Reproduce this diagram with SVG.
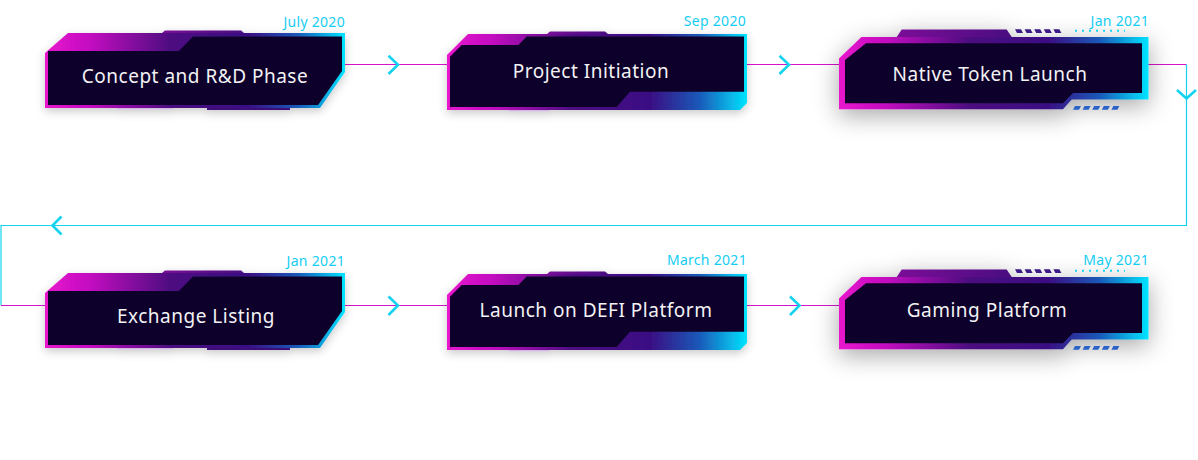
<svg xmlns="http://www.w3.org/2000/svg" width="1198" height="460" viewBox="0 0 1198 460">
  <defs>
    <linearGradient id="brd" x1="0" y1="0" x2="1" y2="0">
      <stop offset="0" stop-color="#e813cc"/>
      <stop offset="0.15" stop-color="#c310c0"/>
      <stop offset="0.42" stop-color="#4c0a80"/>
      <stop offset="0.68" stop-color="#3a1084"/>
      <stop offset="0.84" stop-color="#1a58b8"/>
      <stop offset="1" stop-color="#00e4ff"/>
    </linearGradient>
    <linearGradient id="tab" x1="0" y1="0" x2="1" y2="0">
      <stop offset="0" stop-color="#7a1098"/>
      <stop offset="1" stop-color="#4a0a80"/>
    </linearGradient>
    <filter id="sh1" x="-20%" y="-40%" width="140%" height="190%">
      <feDropShadow dx="0" dy="3" stdDeviation="5" flood-color="#000" flood-opacity="0.22"/>
    </filter>
    <filter id="sh2" x="-30%" y="-80%" width="160%" height="260%">
      <feDropShadow dx="0" dy="6" stdDeviation="12" flood-color="#000" flood-opacity="0.35"/>
    </filter>
  </defs>
  <style>
    .wire{fill:none;stroke:#d414c8;stroke-width:1.2}
    .wire2{fill:none;stroke:#14d2f0;stroke-width:1.2}
    .chev{fill:none;stroke:#14d2f0;stroke-width:2.6;stroke-linecap:butt;stroke-linejoin:miter}
    .outer{fill:url(#brd)}
    .panel{fill:#10022a}
    .tab{fill:url(#tab)}
    .lav{fill:#c8a8e0;opacity:0.7}
    .pur{fill:#3c0c7a}
    .stripe{fill:#3a1a86}
    .bstripe{fill:#2a62c8}
    .dots{fill:none;stroke:#14d2f0;stroke-width:2;stroke-dasharray:2 5}
    .label{font-family:"Noto Sans","Liberation Sans",sans-serif;font-size:19px;letter-spacing:0.5px;fill:#f2f2f4;text-anchor:middle}
    .date{font-family:"Noto Sans","Liberation Sans",sans-serif;font-size:14px;letter-spacing:0.3px;fill:#14cdf2;text-anchor:end}
  </style>

  <g id="connectors">
    <line class="wire" x1="345" y1="64.5" x2="447" y2="64.5"/>
    <line class="wire" x1="747" y1="64.5" x2="839" y2="64.5"/>
    <polyline class="wire" points="1148,64.5 1186.5,64.5"/>
    <polyline class="wire2" points="1186.5,64.5 1186.5,225.5 1,225.5 1,305.5"/>
    <line class="wire" x1="1" y1="305.5" x2="45" y2="305.5"/>
    <line class="wire" x1="345" y1="305.5" x2="447" y2="305.5"/>
    <line class="wire" x1="747" y1="305.5" x2="839" y2="305.5"/>
    <polyline class="chev" points="388.5,55.7 398,64.7 388.5,74"/>
    <polyline class="chev" points="779.5,55.7 789,64.7 779.5,74"/>
    <polyline class="chev" points="1177,90 1186.5,98.5 1196,90"/>
    <polyline class="chev" points="61.5,216.5 52.5,225.5 61.5,234.5"/>
    <polyline class="chev" points="388.5,296.5 398,305.5 388.5,315"/>
    <polyline class="chev" points="790,296.5 799.5,305.5 790,315"/>
  </g>

  <g id="node1" transform="translate(45,33)">
    <g filter="url(#sh1)">
      <polygon class="tab" points="120,-2.5 196,-2.5 199,0 117,0"/>
      <polygon class="outer" points="23,0 300,0 300,39 275,75 0,75 0,20"/>
      <rect class="lav" x="72" y="75" width="56" height="1.5"/>
      <rect class="pur" x="162" y="75" width="83" height="2"/>
      <polygon class="panel" points="3,18 134,18 148,3.5 297,3.5 297,38 273,72 3,72"/>
    </g>
    <text class="label" x="150" y="50">Concept and R&amp;D Phase</text>
    <text class="date" x="300" y="-6">July 2020</text>
  </g>

  <g id="node2" transform="translate(447,34)">
    <g filter="url(#sh1)">
      <polygon class="tab" points="103,-2.5 158,-2.5 161,0 100,0"/>
      <polygon class="outer" points="21,0 300,0 300,69 293,76 0,76 0,21"/>
      <rect class="lav" x="62" y="76" width="40" height="1.5"/>
      <polygon class="panel" points="3,22.7 14.7,11 71.3,11 79.7,2.5 297,2.5 297,57.7 183,57.7 169.7,73 3,73"/>
    </g>
    <text class="label" x="144" y="44.3">Project Initiation</text>
    <text class="date" x="299" y="-8">Sep 2020</text>
  </g>

  <g id="node3" transform="translate(839,37)">
    <g filter="url(#sh2)">
      <polygon class="tab" points="62.7,-7.4 167.7,-7.4 172.7,0 57.7,0"/>
      <polygon class="outer" points="22.4,0 309.5,0 309.5,62.6 232.7,62.6 224,72.3 0,72.3 0,21.6"/>
      <polygon class="panel" points="6,23 27,6.3 303,6.3 303,56 234,56 224,66.3 6,66.3"/>
    </g>
    <g>
      <polygon class="stripe" points="176,-7.7 182,-7.7 184,-4 178,-4"/>
      <polygon class="stripe" points="185.6,-7.7 191.6,-7.7 193.6,-4 187.6,-4"/>
      <polygon class="stripe" points="195.2,-7.7 201.2,-7.7 203.2,-4 197.2,-4"/>
      <polygon class="stripe" points="204.8,-7.7 210.8,-7.7 212.8,-4 206.8,-4"/>
      <polygon class="stripe" points="214.4,-7.7 220.4,-7.7 222.4,-4 216.4,-4"/>
      <line class="dots" x1="236" y1="-6.3" x2="286" y2="-6.3"/>
      <polygon class="bstripe" points="236,69 242,69 240,72.7 234,72.7"/>
      <polygon class="bstripe" points="245.6,69 251.6,69 249.6,72.7 243.6,72.7"/>
      <polygon class="bstripe" points="255.2,69 261.2,69 259.2,72.7 253.2,72.7"/>
      <polygon class="bstripe" points="264.8,69 270.8,69 268.8,72.7 262.8,72.7"/>
      <polygon class="bstripe" points="274.4,69 280.4,69 278.4,72.7 272.4,72.7"/>
    </g>
    <text class="label" x="151" y="43.7">Native Token Launch</text>
    <text class="date" x="310" y="-11">Jan 2021</text>
  </g>

  <g id="node4" transform="translate(45,273)">
    <g filter="url(#sh1)">
      <polygon class="tab" points="120,-2.5 196,-2.5 199,0 117,0"/>
      <polygon class="outer" points="23,0 300,0 300,39 275,75 0,75 0,20"/>
      <rect class="lav" x="72" y="75" width="56" height="1.5"/>
      <rect class="pur" x="162" y="75" width="83" height="2"/>
      <polygon class="panel" points="3,18 134,18 148,3.5 297,3.5 297,38 273,72 3,72"/>
    </g>
    <text class="label" x="151" y="49.7">Exchange Listing</text>
    <text class="date" x="300" y="-7">Jan 2021</text>
  </g>

  <g id="node5" transform="translate(447,274)">
    <g filter="url(#sh1)">
      <polygon class="tab" points="103,-2.5 158,-2.5 161,0 100,0"/>
      <polygon class="outer" points="21,0 300,0 300,69 293,76 0,76 0,21"/>
      <rect class="lav" x="62" y="76" width="40" height="1.5"/>
      <polygon class="panel" points="3,22.7 14.7,11 71.3,11 79.7,2.5 297,2.5 297,57.7 183,57.7 169.7,73 3,73"/>
    </g>
    <text class="label" x="149" y="42.7">Launch on DEFI Platform</text>
    <text class="date" x="300" y="-9">March 2021</text>
  </g>

  <g id="node6" transform="translate(839,277)">
    <g filter="url(#sh2)">
      <polygon class="tab" points="62.7,-7.4 167.7,-7.4 172.7,0 57.7,0"/>
      <polygon class="outer" points="22.4,0 309.5,0 309.5,62.6 232.7,62.6 224,72.3 0,72.3 0,21.6"/>
      <polygon class="panel" points="6,23 27,6.3 303,6.3 303,56 234,56 224,66.3 6,66.3"/>
    </g>
    <g>
      <polygon class="stripe" points="176,-7.7 182,-7.7 184,-4 178,-4"/>
      <polygon class="stripe" points="185.6,-7.7 191.6,-7.7 193.6,-4 187.6,-4"/>
      <polygon class="stripe" points="195.2,-7.7 201.2,-7.7 203.2,-4 197.2,-4"/>
      <polygon class="stripe" points="204.8,-7.7 210.8,-7.7 212.8,-4 206.8,-4"/>
      <polygon class="stripe" points="214.4,-7.7 220.4,-7.7 222.4,-4 216.4,-4"/>
      <line class="dots" x1="236" y1="-6.3" x2="286" y2="-6.3"/>
      <polygon class="bstripe" points="236,69 242,69 240,72.7 234,72.7"/>
      <polygon class="bstripe" points="245.6,69 251.6,69 249.6,72.7 243.6,72.7"/>
      <polygon class="bstripe" points="255.2,69 261.2,69 259.2,72.7 253.2,72.7"/>
      <polygon class="bstripe" points="264.8,69 270.8,69 268.8,72.7 262.8,72.7"/>
      <polygon class="bstripe" points="274.4,69 280.4,69 278.4,72.7 272.4,72.7"/>
    </g>
    <text class="label" x="148" y="39.7">Gaming Platform</text>
    <text class="date" x="310" y="-12">May 2021</text>
  </g>
</svg>
